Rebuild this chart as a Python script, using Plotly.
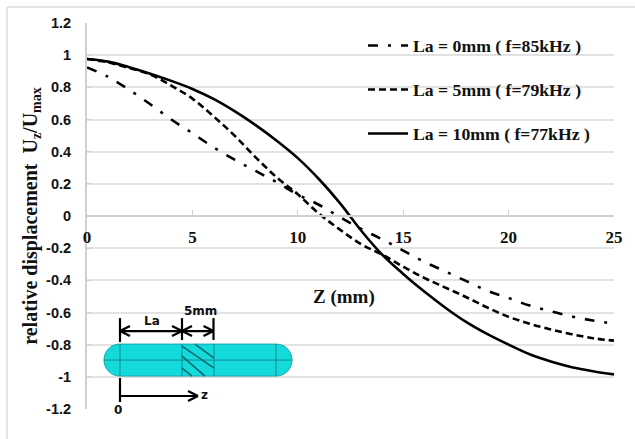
import plotly.graph_objects as go

z_mm = list(range(26))
la0 = [.924,.865,.785,.695,.60,.515,.427,.35,.28,.21,.133,.07,-.007,-.08,-.145,-.215,-.285,-.345,-.405,-.465,-.51,-.557,-.592,-.625,-.65,-.67]
la5 = [.976,.955,.92,.88,.81,.73,.62,.50,.365,.24,.135,.015,-.085,-.175,-.24,-.315,-.385,-.445,-.505,-.57,-.627,-.67,-.705,-.735,-.76,-.775]
la10 = [.976,.96,.925,.885,.84,.79,.728,.652,.565,.468,.36,.23,.08,-.09,-.24,-.36,-.47,-.57,-.66,-.735,-.80,-.86,-.905,-.94,-.965,-.985]
series_names = ["La = 0mm ( f=85kHz )", "La = 5mm ( f=79kHz )", "La = 10mm ( f=77kHz )"]
y_ticks = [1.2,1,.8,.6,.4,.2,0,-.2,-.4,-.6,-.8,-1,-1.2]
y_labels = ["1.2","1","0.8","0.6","0.4","0.2","0","-0.2","-0.4","-0.6","-0.8","-1","-1.2"]
x_ticks = [0,5,10,15,20,25]

W, H = 635, 439
L, R, T, B = 87, 614, 22.5, 409
SERIF = "Liberation Serif"
SANS = "Liberation Sans"
GRID = "#e2e2e2"

def px(x): return (x - L) / (R - L)
def py(y): return (B - y) / (B - T)

fig = go.Figure()
styles = ["10px,10px,3px,10px", "7px,4px", "solid"]
for name, vals, dash in zip(series_names, [la0, la5, la10], styles):
    fig.add_trace(go.Scatter(x=z_mm, y=vals, mode="lines", name=name, legendgroup=name,
                             line=dict(color="black", width=2.6, dash=dash, shape="spline", smoothing=1)))

shapes = []
def line(x0, y0, x1, y1, color="black", width=2.2, layer="above"):
    shapes.append(dict(type="line", xref="paper", yref="paper", x0=px(x0), y0=py(y0), x1=px(x1), y1=py(y1),
                       line=dict(color=color, width=width), layer=layer))

# outer frame (only top and left edges are visible)
line(7, 6.5, 635, 6.5, "#dcdcdc", 1.5)
line(7, 6.5, 7, 439, "#dcdcdc", 1.5)

# capsule
def P(x, y): return f"{px(x)},{py(y)}"
cap = (f"M{P(120,344)} L{P(276,344)} C{P(286,344)} {P(292,352)} {P(292,360)} C{P(292,368)} {P(286,376)} {P(276,376)} "
       f"L{P(120,376)} C{P(110,376)} {P(104,368)} {P(104,360)} C{P(104,352)} {P(110,344)} {P(120,344)} Z")
shapes.append(dict(type="path", xref="paper", yref="paper", path=cap, fillcolor="#14dadc",
                   line=dict(color="#12a9ab", width=1), layer="above"))
EDGE = "#0f7a7d"
line(104, 360, 292, 360, EDGE, 0.8)
for xv in (120, 182, 214, 276):
    line(xv, 344, xv, 376, EDGE, 0.8)
for x0, y0, x1, y1 in [(182,346,214,368),(182,356,205,376),(195,344,214,358),(182,368,192,376)]:
    line(x0, y0, x1, y1, "#0b6a6d", 1.6)

# dimension arrows
line(120, 318, 120, 342); line(182, 318, 182, 340); line(213.5, 318, 213.5, 340)
line(120, 331, 213.5, 331)
for tip, d in [(120, 1), (182, -1), (182, 1), (213.5, -1)]:
    line(tip, 331, tip + 10*d, 326); line(tip, 331, tip + 10*d, 336)
line(120, 378, 120, 402)
line(120, 396, 198, 396)
line(198, 396, 188, 391); line(198, 396, 188, 401)

def note(text, x, y, size, family=SERIF):
    return dict(text=text, xref="paper", yref="paper", x=px(x), y=py(y), showarrow=False,
                xanchor="center", yanchor="middle",
                font=dict(family=family, size=size, color="#111"))

annotations = [
    note("<b>Z (mm)</b>", 344, 297, 19),
    note("<b>La</b>", 152, 321, 12, "DejaVu Sans"),
    note("<b>5mm</b>", 200, 311, 12, "DejaVu Sans"),
    note("<b>z</b>", 204, 395, 12, "DejaVu Sans"),
    note("<b>0</b>", 118, 410, 12, "DejaVu Sans"),
]

fig.update_layout(
    width=W, height=H, autosize=False, paper_bgcolor="white", plot_bgcolor="white",
    margin=dict(l=L, r=W - R, t=T, b=H - B, autoexpand=False),
    showlegend=True,
    legend=dict(x=px(363), y=py(27), xanchor="left", yanchor="top", bgcolor="rgba(0,0,0,0)",
                font=dict(family=SERIF, size=17.7, color="#111", weight="bold"),
                itemwidth=40, tracegroupgap=18, traceorder="grouped"),
    xaxis=dict(range=[0, 25], tickvals=x_ticks, ticks="inside", ticklen=5, tickcolor="#d0d0d0",
               tickfont=dict(family=SERIF, size=17, color="#111", weight="bold"), ticklabelstandoff=6,
               showgrid=False, zeroline=False, showline=True, linecolor="#d0d0d0", linewidth=1.5,
               anchor="free", position=(B - 215.5) / (B - T)),
    yaxis=dict(range=[-1.2, 1.2], tickvals=y_ticks, ticktext=y_labels, ticks="inside", ticklen=4, tickcolor="#d0d0d0",
               tickfont=dict(family=SANS, size=14.5, color="#111", weight="bold"), ticklabelstandoff=11,
               showgrid=True, gridcolor=GRID, gridwidth=1.5, zeroline=False,
               showline=True, linecolor="#d0d0d0", linewidth=2,
               title=dict(text="<b>relative displacement  U<sub>z</sub>/U<sub>max</sub></b>", standoff=3,
                          font=dict(family=SERIF, size=20, color="#111"))),
    shapes=shapes, annotations=annotations,
)
fig.write_html("out.html", config=dict(displayModeBar=False), post_script="document.body.style.margin='0';")
